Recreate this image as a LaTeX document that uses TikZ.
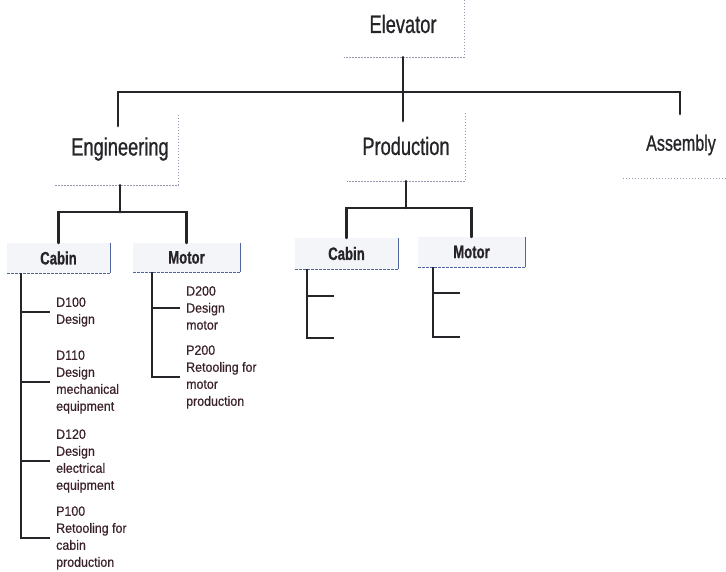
\documentclass[tikz,border=0pt]{standalone}
\usepackage{fontspec}
\setmainfont{Liberation Sans}
\newfontfamily\headfont[FakeStretch=0.73,FakeBold=0.8]{Liberation Sans}
\newfontfamily\itemfont[FakeStretch=0.92,FakeBold=0.5]{Liberation Sans}
\definecolor{ink}{RGB}{38,36,40}
\definecolor{itemink}{RGB}{58,34,40}
\definecolor{edgegray}{RGB}{150,150,172}
\definecolor{edgeblue}{RGB}{80,100,160}
\definecolor{tagfill}{RGB}{243,245,249}
\tikzset{
  bar/.style={draw=ink, line width=2.9pt, line cap=round},
  twig/.style={draw=ink, line width=2.5pt},
  topbox/.style={rectangle, inner sep=0pt},
  frameedge/.style={draw=edgegray, line width=0.8pt, dash pattern=on 1.5pt off 1.5pt},
  heading/.style={inner sep=0pt, text=ink, font=\headfont\fontsize{25}{28}\selectfont},
  tagbox/.style={rectangle, inner sep=0pt, fill=tagfill, text=ink,
    font=\headfont\bfseries\fontsize{18}{20}\selectfont},
  tagedge/.style={draw=edgeblue, line width=1.1pt},
  tagbase/.style={draw=edgeblue, line width=1.1pt, dash pattern=on 3pt off 1pt},
  item/.style={anchor=west, inner sep=0pt, align=left, text=itemink,
    font=\itemfont\fontsize{13.5}{17}\selectfont},
}
\begin{document}
\begin{tikzpicture}[x=1pt, y=-1pt]
\useasboundingbox (0,0) rectangle (726,572);
\fill[white] (0,0) rectangle (726,572);

% ---- top level ----
\node[topbox, minimum width=120pt, minimum height=57pt] (elev) at (404,28.5) {};
\node[heading] (elevT) at (403,24) {Elevator};
\draw[frameedge] (elev.north east) -- (elev.south east) -- (elev.south west);

% ---- second level boxes ----
\node[topbox, minimum width=123pt, minimum height=70pt] (eng) at (116.5,150) {};
\node[heading] (engT) at (120,149) {Engineering};
\draw[frameedge] (eng.north east) -- (eng.south east) -- (eng.south west);

\node[topbox, minimum width=118pt, minimum height=68pt] (prod) at (406,147) {};
\node[heading] (prodT) at (406,146) {Production};
\draw[frameedge] (prod.north east) -- (prod.south east) -- (prod.south west);

\node[topbox, minimum width=103pt, minimum height=73pt] (asm) at (674.5,141.5) {};
\node[heading, font=\headfont\fontsize{22}{25}\selectfont] (asmT) at (681,145) {Assembly};
\draw[frameedge] (asm.south west) -- (asm.south east);

% ---- connectors from the top ----
\coordinate (bus) at (403,92);
\coordinate (engIn) at (118,126);
\coordinate (prodIn) at (403,121);
\coordinate (asmIn) at (680,114);
\draw[bar] (elev.south -| bus) -- (bus);
\draw[bar] (bus) -| (engIn);
\draw[bar] (bus) -| (asmIn);
\draw[bar] (bus) -- (prodIn);

% ---- third level tags ----
\node[tagbox, minimum width=103pt, minimum height=30pt] (cabA) at (58.5,258) {Cabin};
\node[tagbox, minimum width=107pt, minimum height=29pt] (motA) at (186.5,257.5) {Motor};
\node[tagbox, minimum width=103pt, minimum height=31pt] (cabB) at (346.5,253.5) {Cabin};
\node[tagbox, minimum width=107pt, minimum height=30pt] (motB) at (471.5,252) {Motor};
\foreach \t in {cabA,motA,cabB,motB}{
  \draw[tagedge] (\t.north east) -- (\t.south east);
  \draw[tagbase] (\t.south west) -- (\t.south east);
}

\coordinate (engBus) at (120,212);
\draw[bar] (engT |- eng.south) -- (engBus);
\draw[bar] (engBus) -| (cabA.north);
\draw[bar] (engBus) -| (motA.north);

\coordinate (prodBus) at (406,208);
\draw[bar] (prodT |- prod.south) -- (prodBus);
\draw[bar] (prodBus) -| (cabB.north);
\draw[bar] (prodBus) -| (motB.north);

% ---- work packages under Engineering / Cabin ----
\node[item] (d100) at (56,312) {D100\\Design};
\node[item] (d110) at (56,382) {D110\\Design\\mechanical\\equipment};
\node[item] (d120) at (56,461) {D120\\Design\\electrical\\equipment};
\node[item] (p100) at (56,538) {P100\\Retooling for\\cabin\\production};
\coordinate (cabAroot) at (21,273);
\draw[twig] (cabAroot) |- ([xshift=-6pt]p100.west);
\foreach \w in {d100,d110,d120}{
  \draw[twig] (cabAroot |- \w.west) -- ([xshift=-6pt]\w.west);
}

% ---- work packages under Engineering / Motor ----
\node[item] (d200) at (186,308) {D200\\Design\\motor};
\node[item] (p200) at (186,377) {P200\\Retooling for\\motor\\production};
\coordinate (motAroot) at (152,272);
\draw[twig] (motAroot) |- ([xshift=-6pt]p200.west);
\draw[twig] (motAroot |- d200.west) -- ([xshift=-6pt]d200.west);

% ---- empty branches under Production ----
\coordinate (cabBroot) at (307,269);
\coordinate (cabBa) at (334,296);
\coordinate (cabBb) at (334,338);
\draw[twig] (cabBroot) |- (cabBb);
\draw[twig] (cabBroot |- cabBa) -- (cabBa);

\coordinate (motBroot) at (433,267);
\coordinate (motBa) at (460,293);
\coordinate (motBb) at (460,337);
\draw[twig] (motBroot) |- (motBb);
\draw[twig] (motBroot |- motBa) -- (motBa);
\end{tikzpicture}
\end{document}
